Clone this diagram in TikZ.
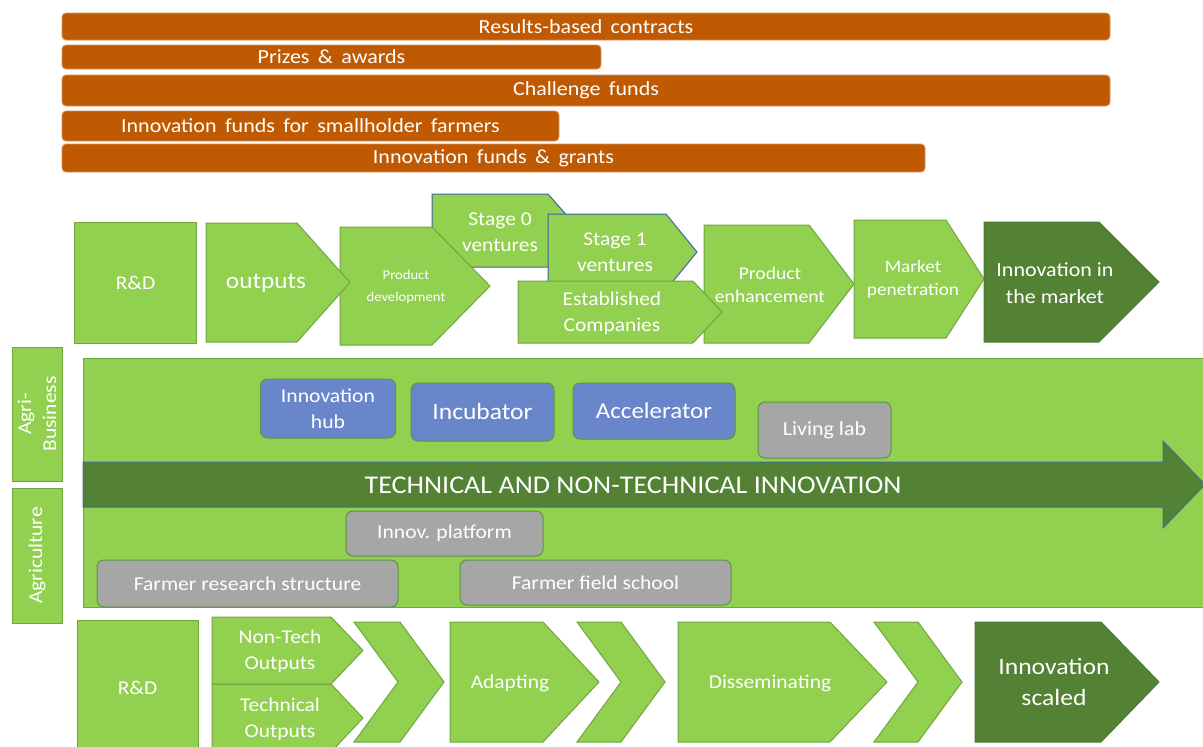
\documentclass[tikz,border=0pt]{standalone}
\usepackage{fontspec}
\setmainfont{Carlito}[FakeStretch=1.1]
\definecolor{lg}{HTML}{92D050}
\definecolor{lgb}{HTML}{6FA63E}
\definecolor{dg}{HTML}{548235}
\definecolor{dgb}{HTML}{4C7A30}
\definecolor{org}{HTML}{C05A02}
\definecolor{orgl}{HTML}{D9935A}
\definecolor{bluef}{HTML}{6A86CB}
\definecolor{grayf}{HTML}{A6A6A6}
\definecolor{boxb}{HTML}{5E9440}
\definecolor{vent}{HTML}{3E64A6}
\definecolor{arrb}{HTML}{3F6E90}
\newcommand\fsz[2]{\fontsize{#1}{#2}\selectfont}
\newcommand\barfont{\fsz{20}{24}\setlength{\spaceskip}{0.42em plus 0.1em}}
\newcommand\pentbox[7]{%
  \path[#1] (#3,#4) -- (#5,#4) -- (#6,{(#4+#7)/2}) -- (#5,#7) -- (#3,#7) -- cycle;
  \coordinate (#2) at ({(#3+#5)/2},{(#4+#7)/2});}
\newcommand\chevbox[7]{%
  \path[#1] (#3,#4) -- (#5,#4) -- (#6,{(#4+#7)/2}) -- (#5,#7) -- (#3,#7) -- ({#3+#6-#5},{(#4+#7)/2}) -- cycle;
  \coordinate (#2) at ({(#3+#6)/2},{(#4+#7)/2});}
\tikzset{
  lgshape/.style={fill=lg, draw=lgb, line width=1pt},
  dgshape/.style={fill=dg, draw=dgb, line width=1pt},
  ventshape/.style={fill=lg, draw=vent, line width=1pt},
  txt/.style={text=white, align=center, inner sep=0pt, font=\fsz{19.5}{26}},
  bar/.style={fill=org, draw=orgl, line width=0.8pt, rounded corners=4pt, text=white,
    inner sep=0pt, font=\barfont},
  bluebox/.style={fill=bluef, draw=boxb, line width=1pt, rounded corners=7pt, text=white,
    align=center, inner sep=0pt},
  graybox/.style={fill=grayf, draw=boxb, line width=1pt, rounded corners=7pt, text=white,
    align=center, inner sep=0pt, font=\fsz{19.6}{24}},
  bigarrow/.style={fill=dg, draw=arrb, line width=1pt},
}
\begin{document}
\begin{tikzpicture}[x=1pt,y=-1pt]
\useasboundingbox (0,0) rectangle (1203,747);
\clip (0,0) rectangle (1203,747);
\fill[white] (0,0) rectangle (1203,747);

% funding bars
\node[bar, minimum width=1048, minimum height=27] (b1) at (586,26.5) {Results-based contracts};
\node[bar, minimum width=539, minimum height=24] (b2) at (331.5,57) {Prizes \& awards};
\node[bar, minimum width=1048, minimum height=31] (b3) at (586,90.5) {Challenge funds};
\node[bar, minimum width=497, minimum height=30] (b4) at (310.5,126) {Innovation funds for smallholder farmers};
\node[bar, minimum width=863, minimum height=28] (b5) at (493.5,158) {Innovation funds \& grants};

% top process row
\node[lgshape, minimum width=122, minimum height=121, txt] (rd1) at (135.5,282.5) {R\&D};
\pentbox{ventshape}{s0}{432}{194}{548}{580}{267}
\pentbox{lgshape}{pd}{340}{227}{432}{490}{345}
\pentbox{lgshape}{out}{206}{223}{297}{350}{342}
\pentbox{ventshape}{s1}{548}{214}{666}{697}{290}
\pentbox{lgshape}{pe}{704}{225}{809}{854}{343}
\pentbox{lgshape}{est}{518}{281}{693}{722}{343}
\pentbox{lgshape}{mp}{854}{220}{946}{984}{338}
\pentbox{dgshape}{im}{984}{222}{1099}{1159}{342}
\node[txt, font=\fsz{23}{28}] (outt) at (266,283) {outputs};
\node[txt, font=\fsz{13.3}{22}] (pdt) at (406,287) {Product\\development};
\node[txt] (s0t) at (500,232) {Stage 0\\ventures};
\node[txt] (s1t) at (615,252) {Stage 1\\ventures};
\node[txt] (estt) at (612,313) {Established\\Companies};
\node[txt, font=\fsz{17.8}{23}] (pet) at (770,285) {Product\\enhancement};
\node[txt, font=\fsz{17.5}{23}] (mpt) at (913,279) {Market\\penetration};
\node[txt, font=\fsz{20}{27}] (imt) at (1055,283) {Innovation in\\the market};

% side labels
\node[lgshape, minimum width=134, minimum height=50, rotate=90, txt, font=\fsz{19.5}{25}] (agb) at (37,414) {Agri-\\Business};
\node[lgshape, minimum width=135, minimum height=50, rotate=90, txt, font=\fsz{19.5}{25}] (agr) at (37,555.5) {Agriculture};

% central field
\node[lgshape, anchor=north west, minimum width=1140, minimum height=249, inner sep=0pt] (field) at (83,358) {};
\path[bigarrow] (83,462) -- (1163,462) -- (1163,441) -- (1205,484.5) -- (1163,528) -- (1163,507) -- (83,507) -- cycle;
\node[txt, font=\fsz{25.5}{30}] (tech) at (633,485) {TECHNICAL AND NON-TECHNICAL INNOVATION};

\node[bluebox, minimum width=135, minimum height=59, font=\fsz{19.7}{26}] (hub) at (328,408.5) {Innovation\\hub};
\node[bluebox, minimum width=143, minimum height=58, font=\fsz{23.2}{28}] (inc) at (482.5,412) {Incubator};
\node[bluebox, minimum width=162, minimum height=56, font=\fsz{22.7}{28}] (acc) at (654,411) {Accelerator};
\node[graybox, minimum width=133, minimum height=56, font=\fsz{20}{24}] (liv) at (824.5,430) {Living lab};
\node[graybox, minimum width=197, minimum height=45] (plat) at (444.5,533.5) {Innov. platform};
\node[graybox, minimum width=301, minimum height=47] (frs) at (247.5,583.5) {Farmer research structure};
\node[graybox, minimum width=271, minimum height=45] (ffs) at (595.5,582.5) {Farmer field school};

% bottom process row
\node[lgshape, minimum width=121, minimum height=136, txt] (rd2) at (137.5,688) {R\&D};
\pentbox{lgshape}{tec}{212}{684}{331}{363}{752}
\pentbox{lgshape}{ntec}{212}{617}{331}{363}{684}
\chevbox{lgshape}{c1}{354}{622}{400}{444}{742}
\pentbox{lgshape}{ada}{450}{622}{543}{599}{742}
\chevbox{lgshape}{c2}{577}{622}{621}{665}{742}
\pentbox{lgshape}{dis}{678}{622}{830}{887}{742}
\chevbox{lgshape}{c3}{874}{622}{918}{962}{742}
\pentbox{dgshape}{isc}{975}{622}{1101}{1159}{742}
\node[txt] (ntect) at (280,651) {Non-Tech\\Outputs};
\node[txt] (tect) at (280,719) {Technical\\Outputs};
\node[txt] (adat) at (510,683) {Adapting};
\node[txt] (dist) at (770,683) {Disseminating};
\node[txt, font=\fsz{23.3}{31}] (isct) at (1054,682) {Innovation\\scaled};
\end{tikzpicture}
\end{document}
